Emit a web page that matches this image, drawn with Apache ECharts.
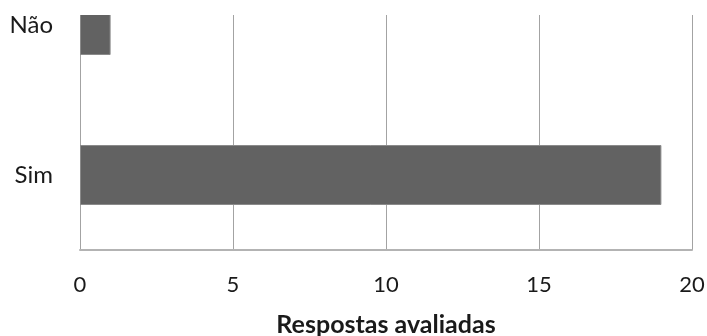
<!DOCTYPE html>
<html>
<head>
<meta charset="utf-8">
<script src="https://cdn.jsdelivr.net/npm/echarts@6/dist/echarts.min.js"></script>
<style>
  html, body { margin: 0; padding: 0; background: #fff; }
  #chart { width: 707px; height: 336px; }
</style>
</head>
<body>
<div id="chart"></div>
<script>
// Categories (bottom to top) and answer counts
const categories = ['Sim', 'Não'];
const counts = [19, 1];
const xTicks = [0, 5, 10, 15, 20];
const axisTitle = 'Respostas avaliadas';

const chart = echarts.init(document.getElementById('chart'), null, { renderer: 'canvas' });
const FONT = 'Lato, "Open Sans", sans-serif';
const gridColor = '#a3a3a3';

chart.setOption({
  animation: false,
  backgroundColor: '#ffffff',
  // plot area runs above the visible frame; its upper strip is masked below
  grid: {
    left: 80, right: 15, top: -50, bottom: 86,
    containLabel: false,
    outerBoundsMode: 'none'
  },
  xAxis: {
    type: 'value',
    min: xTicks[0],
    max: xTicks[xTicks.length - 1],
    interval: 5,
    name: axisTitle,
    nameLocation: 'middle',
    nameGap: 62,
    nameTextStyle: { fontFamily: FONT, fontSize: 25, fontWeight: 'bold', color: '#1a1a1a' },
    axisLine: { show: true, lineStyle: { color: '#b3b3b3', width: 2 } },
    axisTick: { show: false },
    axisLabel: { fontFamily: FONT, fontSize: 22, color: '#1a1a1a', margin: 24 },
    splitLine: { show: true, lineStyle: { color: gridColor, width: 1 } }
  },
  yAxis: {
    type: 'category',
    data: categories,
    axisLine: { show: true, lineStyle: { color: gridColor, width: 1 } },
    axisTick: { show: false },
    axisLabel: { fontFamily: FONT, fontSize: 24, color: '#1a1a1a', margin: 27 },
    splitLine: { show: false }
  },
  series: [{
    type: 'bar',
    data: counts,
    barWidth: 60,
    itemStyle: { color: '#626262', borderColor: '#8a8a8a', borderWidth: 1 }
  }],
  graphic: [{
    type: 'rect',
    left: 0, top: 0,
    shape: { width: 707, height: 15 },
    style: { fill: '#ffffff' },
    z: 100
  }]
});
</script>
</body>
</html>
